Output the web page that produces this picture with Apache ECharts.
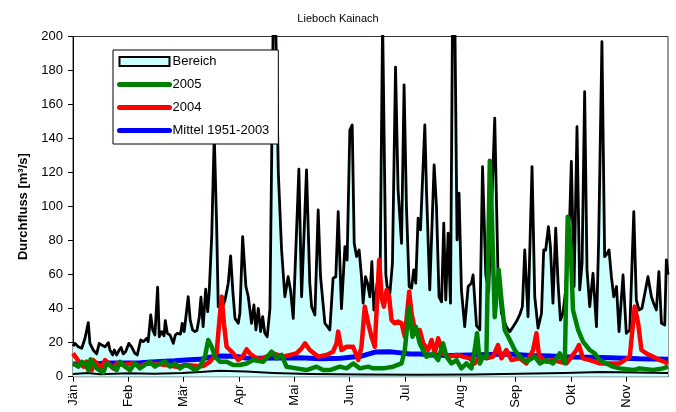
<!DOCTYPE html>
<html>
<head>
<meta charset="utf-8">
<script src="https://cdn.jsdelivr.net/npm/echarts@6/dist/echarts.min.js"></script>
<style>html,body{margin:0;padding:0;background:#fff;}#c{width:676px;height:412px;}</style>
</head>
<body>
<div id="c"></div>
<script>
// Month tick labels (one tick every 30.4 days)
const months = ['Jän','Feb','Mär','Apr','Mai','Jun','Jul','Aug','Sep','Okt','Nov'];
const monthLen = 30.4;
const lastDay = 326.9;

// Bereich – upper envelope (max), [day, m³/s]
const bereichMax = [[0,18],[1.1,19.6],[2.9,17.6],[4.8,16.7],[6.6,22.6],[7.5,23.5],[8.4,31.8],[9.3,19.6],[11.1,15.7],[13.0,13.4],[14.4,19.6],[15.8,18.6],[17.6,17.6],[19.4,20],[20.3,15.7],[21.8,12.8],[22.7,15.7],[24.0,12.8],[25.4,15.7],[26.4,17.2],[27.6,13.4],[28.9,14.7],[30.7,19.6],[32.2,17.6],[34.0,13.7],[35.3,12.8],[37.2,21.6],[38.6,20.6],[40.5,22.6],[41.3,20.6],[42.7,36.3],[43.8,27.5],[45.0,24.5],[46.5,52.6],[47.4,23.5],[48.7,26.5],[50.0,24],[50.7,33],[51.8,25.5],[53.3,24.5],[55.1,19.6],[56.2,24.5],[57.3,25.5],[59.1,25.1],[60.0,31.4],[61.1,26.5],[62.0,25.9],[63.3,47],[64.4,33.3],[65.7,27.5],[67.0,26.5],[68.1,27.1],[69.4,35.3],[70.3,46.7],[71.5,29.4],[72.9,51.4],[74.0,38.3],[74.8,49],[76.2,82.4],[77.6,142],[78.9,90],[79.8,41.2],[81.8,40],[83.5,45],[85.3,55],[86.6,71],[87.9,49],[89.0,34.3],[90.8,31.4],[91.7,37.4],[93.2,82.4],[95.0,53],[96.3,47],[98.1,31.4],[99.4,42.2],[100.5,27.5],[101.8,40.2],[103.1,26.5],[104.2,35.3],[105.4,25.5],[106.7,23.5],[108.2,40],[110.0,210],[111.5,200],[112.8,120],[114.6,74.5],[116.4,47],[118.2,58.8],[119.5,51],[121.0,34.3],[121.9,33.3],[124.1,122],[125.6,47],[126.5,47],[128.3,121.6],[130.1,55],[131.1,41.2],[132.9,36.3],[134.7,98],[136.0,58.8],[138.4,31.4],[141.1,27.5],[142.9,57.9],[144.4,58.8],[145.7,97],[147.5,40],[149.4,76.5],[150.6,68.6],[152.1,145],[153.4,148],[154.5,78.4],[155.8,70.6],[157.2,74.5],[158.5,58.8],[159.4,43.2],[160.7,58.8],[161.8,55],[163.1,47],[164.2,67.6],[165.3,39.2],[167.1,55],[168.6,47],[170.1,210],[171.9,60],[172.6,53],[174.1,49],[175.5,66.7],[177.2,182],[178.6,110],[180.5,78.4],[181.9,171.6],[183.2,100],[184.7,53],[186.0,52],[187.2,62.8],[188.3,55],[189.6,93.2],[190.9,86.3],[193.3,148],[194.2,110],[196.0,51],[198.4,124.5],[199.7,100],[201.1,47],[202.5,44],[203.7,90.2],[204.8,45.1],[206.1,84.4],[207.4,43.2],[208.5,210],[209.8,210],[211.0,80.4],[212.1,107.9],[213.4,51],[215.2,29.4],[217.1,53],[218.9,55],[219.8,59.8],[221.7,30],[223.5,27.5],[225.0,123.5],[226.8,60],[228.4,50],[231.7,152],[233.5,60.8],[235.4,37.3],[238.1,29.4],[240.0,26.5],[241.8,29.4],[243.6,32.4],[245.4,36.3],[246.9,41.2],[248.2,74.5],[250.0,35.3],[252.2,123.5],[253.7,47],[255.5,28.5],[257.4,37.3],[258.6,74.5],[259.7,74.5],[261.2,88.2],[262.3,76.5],[263.7,43.2],[265.2,87.3],[266.5,55],[267.8,33.3],[269.2,37.3],[270.7,51],[272.0,86.3],[272.9,94.1],[273.8,126.5],[275.3,53],[276.9,147],[278.4,51],[279.7,66.7],[281.1,167.6],[282.4,62.8],[283.9,41.2],[285.7,60.8],[287.6,29.4],[288.8,80],[290.6,197],[292.1,70.6],[293.2,72],[294.5,74.5],[295.8,58.8],[297.1,47],[298.6,53],[300.0,26.5],[302.2,59.8],[304.0,25.5],[305.9,27.5],[308.1,97],[309.5,45.1],[311.0,39.2],[312.6,40.2],[315.9,58.8],[317.8,47],[319.0,43.2],[320.5,39.2],[321.9,61.8],[323.3,31.4],[325.1,30.4],[326.0,68.6],[326.9,60]];

// Bereich – lower envelope (min)
const bereichMin = [[0,1.6],[8,2.2],[15,1.5],[30,2],[45,1.8],[60,2.2],[70,2.8],[80,3.5],[95,3],[110,2.2],[130,1.6],[160,1.3],[190,1.2],[220,1.3],[245,1.8],[270,2.2],[290,2.8],[310,2.5],[326.9,2.2]];

// Mittel 1951-2003
const mittel = [[0,7.5],[9,7.5],[20,8],[37,8.2],[48,9],[56,9.4],[64,10],[70,10.2],[75,11.5],[81,12.2],[89,12],[95,11],[103,10.8],[111,11],[125,11.2],[136,10.5],[147,10.8],[158,12],[166,14.5],[174,14.7],[180,14],[185,13.3],[191,13.3],[196,12.7],[207,12.5],[218,12.7],[229,13],[240,13.3],[251,12.5],[262,12.2],[273,11.6],[284,11.5],[295,11.2],[311,10.5],[326.9,10.2]];

// 2004
const y2004 = [[0,13.7],[2.0,10.8],[3.8,7.8],[5.7,5.9],[7.5,8.8],[10.3,3.9],[11.1,9.8],[13.0,7.8],[15.8,4.9],[17.6,9.8],[19.4,7.8],[22.1,4.9],[24.0,7.8],[27.6,6.9],[33.1,7.8],[36.8,6.3],[40.5,7.8],[46.0,7.5],[51.5,6.9],[56.9,5.9],[62.4,6.9],[67.9,6.3],[71.5,6.3],[75.2,8.8],[78.9,13.7],[80.3,31.4],[81.7,47],[82.9,31.4],[84.4,17.6],[86.2,15.7],[88.0,13.7],[90.8,9.8],[93.2,11.8],[95.4,16.1],[97.2,13.7],[99.9,11.4],[102.7,10.2],[106.4,11.8],[110.0,13.7],[115.5,11.8],[122.8,13.7],[125.6,16.7],[127.5,19.6],[130.1,15.7],[134.7,11.8],[139.3,12.8],[142.9,14.7],[144.8,19.6],[145.7,26.5],[147.5,15.7],[150.3,17.6],[153.9,17.6],[156.7,9.8],[158.5,17.6],[160.3,41.2],[162.2,31.4],[164.0,23.5],[165.8,17.6],[168.2,68.6],[169.5,47],[170.8,41.2],[172.3,51],[173.7,47],[175.0,33.3],[176.8,31.4],[178.6,32.4],[180.5,31.4],[182.3,23.5],[184.7,50],[186.0,37.3],[187.8,27.5],[190.5,27.5],[192.4,19.6],[195.1,15.7],[197.0,21.6],[198.8,13.7],[200.6,22.6],[203.3,13.7],[207.0,11.8],[210.7,12.8],[214.3,11.8],[218.0,10.8],[220.7,7.8],[223.5,11.8],[227.2,10.8],[230.8,11.8],[233.5,18.6],[235.4,10.8],[238.1,15.7],[240.9,9.8],[245.4,10.8],[249.1,7.8],[252.8,15.7],[254.6,25.5],[256.1,11.8],[260.1,8.8],[263.7,9.8],[267.4,8.8],[271.1,7.8],[276.6,15.7],[278.0,18.6],[280.2,10.8],[283.9,9.8],[289.4,7.8],[294.9,7.8],[300.4,7.8],[305.9,11.8],[308.6,41.2],[310.5,31.4],[312.3,15.7],[315.0,13.7],[318.6,11.8],[322.3,9.8],[326.9,7.8]];

// 2005
const y2005 = [[0,7.8],[2.9,5.9],[4.8,8.8],[6.6,7.8],[8.4,3.9],[9.7,10.2],[11.1,7.8],[13.0,4.9],[16.6,2.4],[18.5,7.8],[21.3,5.9],[24.0,3.9],[25.8,8.8],[28.6,5.9],[31.3,3.9],[34.0,7.8],[36.8,4.9],[39.5,6.9],[42.3,8.8],[45.0,5.9],[47.8,7.8],[50.5,8.8],[53.3,5.9],[56.0,7.8],[58.8,4.9],[61.5,6.9],[64.2,5.9],[67.0,3.9],[69.7,5.9],[72.5,11.8],[74.3,21.6],[76.2,17.6],[78.0,11.8],[80.7,8.8],[84.4,8.8],[88.0,6.9],[91.7,6.9],[95.4,7.8],[99.0,9.8],[104.5,8.8],[109.1,14.7],[111.9,10.8],[114.6,12.8],[117.3,5.9],[122.8,4.9],[128.3,3.9],[133.8,5.9],[137.4,3.9],[141.1,3.9],[146.6,5.9],[150.3,4.9],[153.9,7.8],[157.6,4.9],[162.2,5.9],[164.9,4.9],[170.4,4.9],[175.9,5.9],[180.5,7.8],[182.3,15.7],[184.7,41.2],[186.5,23.5],[188.3,29.4],[190.5,19.6],[194.2,11.8],[197.8,13.7],[200.6,9.8],[203.3,19.6],[205.2,11.8],[207.9,7.8],[210.7,9.8],[213.4,4.9],[216.2,7.8],[218.9,4.9],[220.7,15.7],[222.0,25.5],[223.5,7.8],[225.3,11.8],[227.1,11],[229.0,127],[230.1,95],[231.7,35],[233.9,62.8],[235.4,45],[237.2,27.5],[240.0,21.6],[242.7,15.7],[245.4,11.8],[249.1,8.8],[253.7,11.8],[256.5,7.8],[260.1,9.8],[263.7,7.8],[267.4,13.7],[270.2,8],[271.8,94],[273.5,74.5],[274.7,39.2],[277.5,27.5],[280.2,20.6],[283.9,15.7],[286.6,13.7],[289.4,9.8],[293.0,7.8],[296.7,5.9],[300.4,4.9],[307.7,3.9],[311.3,4.9],[318.6,3.9],[324.1,4.9],[326.9,5.9]];

const FONT = '"Liberation Sans", Arial, sans-serif';
const chart = echarts.init(document.getElementById('c'), null, {renderer: 'canvas'});
const lineBase = {type: 'line', symbol: 'none', showSymbol: false, smooth: false, animation: false, clip: true};
const hideSym = {opacity: 0, borderWidth: 0};

chart.setOption({
  animation: false,
  backgroundColor: '#fff',
  title: {
    text: 'Lieboch Kainach', left: 'center', top: 8,
    textStyle: {fontFamily: FONT, fontSize: 11, fontWeight: 'normal', color: '#000'}
  },
  grid: {left: 73, right: 8, top: 36.5, bottom: 35.3, show: true, borderColor: '#333', borderWidth: 1, backgroundColor: 'transparent', containLabel: false, outerBoundsMode: 'none'},
  legend: {
    orient: 'vertical', left: 113, top: 50,
    padding: [4, 9, 6, 4], itemGap: 8, itemWidth: 50, itemHeight: 9,
    backgroundColor: '#fff', borderColor: '#000', borderWidth: 1, borderRadius: 0,
    textStyle: {fontFamily: FONT, fontSize: 13, color: '#000', lineHeight: 15, padding: [0, 0, 0, -2]},
    data: [
      {name: 'Bereich', icon: 'rect', itemStyle: {color: '#ccffff', borderColor: '#000', borderWidth: 2}},
      {name: '2005', itemStyle: hideSym, lineStyle: {width: 5, color: '#008000', cap: 'round'}},
      {name: '2004', itemStyle: hideSym, lineStyle: {width: 5, color: '#ff0000', cap: 'round'}},
      {name: 'Mittel 1951-2003', itemStyle: hideSym, lineStyle: {width: 5, color: '#0000ff', cap: 'round'}}
    ]
  },
  xAxis: {
    type: 'value', min: 0, max: lastDay, interval: monthLen,
    axisLine: {show: true, onZero: false, lineStyle: {color: '#000', width: 1}},
    axisTick: {show: true, inside: false, length: 5, lineStyle: {color: '#000'}},
    splitLine: {show: false},
    axisLabel: {
      rotate: 90, margin: 8, fontFamily: FONT, fontSize: 13, color: '#000', showMaxLabel: false,
      formatter: function (v) { const i = Math.round(v / monthLen); return (Math.abs(v - i * monthLen) < 0.5 && months[i]) ? months[i] : ''; }
    }
  },
  yAxis: {
    type: 'value', min: 0, max: 200, interval: 20,
    name: 'Durchfluss [m³/s]', nameLocation: 'middle', nameGap: 38, nameRotate: 90,
    nameTextStyle: {fontFamily: FONT, fontSize: 13, fontWeight: 'bold', color: '#000'},
    axisLine: {show: true, lineStyle: {color: '#000', width: 1}},
    axisTick: {show: true, inside: false, length: 5, lineStyle: {color: '#000'}},
    splitLine: {show: false},
    axisLabel: {margin: 10, fontFamily: FONT, fontSize: 13, color: '#000'}
  },
  series: [
    Object.assign({}, lineBase, {
      name: 'Bereich', data: bereichMax, z: 1,
      lineStyle: {color: '#000', width: 2.8, join: 'round'},
      itemStyle: {color: '#ccffff'},
      areaStyle: {color: '#ccffff', opacity: 1, origin: 'start'}
    }),
    Object.assign({}, lineBase, {
      name: 'Bereich', data: bereichMin, z: 2,
      lineStyle: {color: '#000', width: 2, join: 'round'},
      itemStyle: {color: '#ccffff'}
    }),
    Object.assign({}, lineBase, {
      name: 'Mittel 1951-2003', data: mittel, z: 3,
      lineStyle: {color: '#0000ff', width: 5, join: 'round'},
      itemStyle: {color: '#0000ff'}
    }),
    Object.assign({}, lineBase, {
      name: '2004', data: y2004, z: 4,
      lineStyle: {color: '#ff0000', width: 4.5, join: 'round'},
      itemStyle: {color: '#ff0000'}
    }),
    Object.assign({}, lineBase, {
      name: '2005', data: y2005, z: 5,
      lineStyle: {color: '#008000', width: 4.5, join: 'round'},
      itemStyle: {color: '#008000'}
    })
  ]
});
</script>
</body>
</html>
